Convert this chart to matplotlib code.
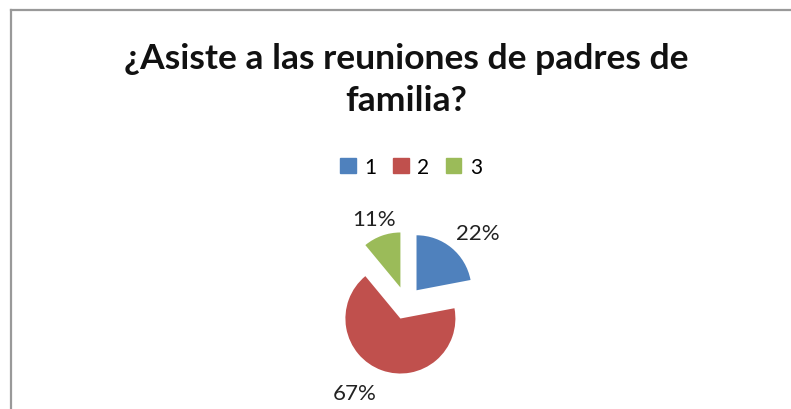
import matplotlib
matplotlib.use("Agg")
import matplotlib.pyplot as plt
from matplotlib.lines import Line2D
import numpy as np

# Data
categories = ["1", "2", "3"]
values = [22, 67, 11]
colors = ["#4F81BD", "#C0504D", "#9BBB59"]
title = "¿Asiste a las reuniones de padres de\nfamilia?"

plt.rcParams['font.family'] = ['Lato', 'DejaVu Sans']

W, H = 791, 410
fig = plt.figure(figsize=(W / 100, H / 100), dpi=100)
fig.patch.set_facecolor("white")

# chart border (left and top visible)
fig.add_artist(Line2D([11 / W, 11 / W], [0, 1 - 11 / H], color="#999999", lw=1.6,
                      transform=fig.transFigure))
fig.add_artist(Line2D([11 / W, 1], [1 - 11 / H, 1 - 11 / H], color="#999999", lw=1.6,
                      transform=fig.transFigure))

# pie axes: center (406, 304) px, radius 55 px
cx, cy, r = 406, 304, 55
lim = 2.0
size = 2 * lim * r
ax = fig.add_axes([(cx - size / 2) / W, (H - cy - size / 2) / H, size / W, size / H])
wedges, _ = ax.pie(values, colors=colors, startangle=90, counterclock=False,
                   explode=[0.3] * 3, radius=1.0,
                   wedgeprops=dict(linewidth=0))
ax.set_xlim(-lim, lim)
ax.set_ylim(-lim, lim)
ax.set_aspect("equal")
ax.axis("off")

# data labels
label_dist = [1.82, 1.88, 1.63]
angle_shift = [-6, -10, 1]
for w, v, d, s in zip(wedges, values, label_dist, angle_shift):
    ang = np.deg2rad((w.theta1 + w.theta2) / 2 + s)
    ax.text(d * np.cos(ang), d * np.sin(ang), f"{v}%", ha="center", va="center",
            fontsize=16, color="#222222", clip_on=False)

fig.text(406 / W, 1 - 80 / H, title, ha="center", va="center", fontsize=25.5,
         fontweight="bold", linespacing=1.38, color="#111111")

handles = [plt.Rectangle((0, 0), 1, 1, color=c) for c in colors]
fig.legend(handles, categories, loc="center", bbox_to_anchor=(411 / W, 1 - 168 / H),
           ncol=3, frameon=False, fontsize=15, handlelength=0.75, handleheight=0.75,
           handletextpad=0.4, columnspacing=0.8, borderpad=0, borderaxespad=0)

fig.savefig("out.png", dpi=100, facecolor="white")
